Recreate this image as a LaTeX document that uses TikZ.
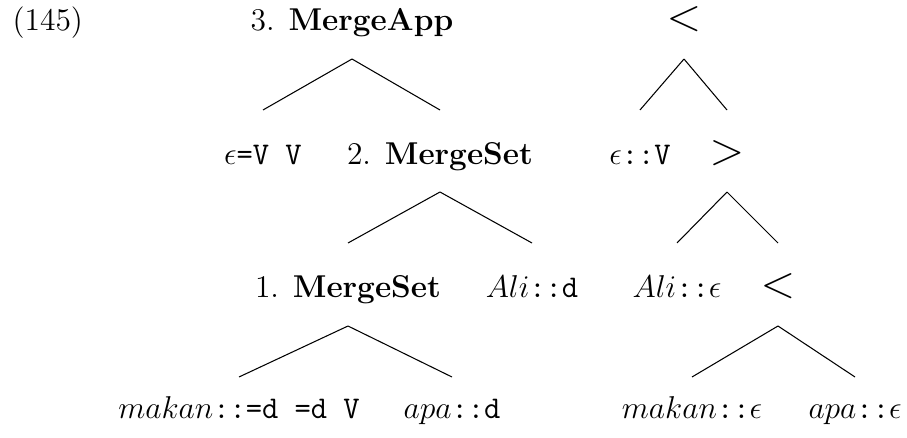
\documentclass[12pt,tikz,border=0pt]{standalone}
\usepackage{amsmath}
\usepackage{amssymb}
\usepackage{tikz}
\usetikzlibrary{positioning,calc}

\begin{document}
\begin{tikzpicture}[
    x=0.38pt, y=-0.38pt,
    lbl/.style={inner sep=0pt, anchor=base},
    rel/.style={inner sep=0pt, anchor=base, font=\Large},
    branch/.style={line width=0.4pt},
]
    \useasboundingbox (0,0) rectangle (907,438);
    \node[lbl, anchor=base west] (exnum) at (12,31) {(145)};
    % derivation
    \node[lbl] (mapp) at (352,31) {3. \textbf{MergeApp}};
    \node[lbl] (epsvv) at (263,165) {$\epsilon$\texttt{=V V}};
    \node[lbl] (msettwo) at (440,165) {2. \textbf{MergeSet}};
    \node[lbl] (msetone) at (348,297) {1. \textbf{MergeSet}};
    \node[lbl] (alid) at (532,297) {$Ali$\texttt{::d}};
    \node[lbl] (makand) at (239,418) {$makan$\texttt{::=d =d V}};
    \node[lbl] (apad) at (452,418) {$apa$\texttt{::d}};
    % derived tree
    \node[rel] (lttop) at (684,31) {$<$};
    \node[lbl] (epsv) at (640,165) {$\epsilon$\texttt{::V}};
    \node[rel] (gtmid) at (727,165) {$>$};
    \node[lbl] (alieps) at (677,297) {$Ali$\texttt{::}$\epsilon$};
    \node[rel] (ltlow) at (778,297) {$<$};
    \node[lbl] (makaneps) at (692,418) {$makan$\texttt{::}$\epsilon$};
    \node[lbl] (apaeps) at (855,418) {$apa$\texttt{::}$\epsilon$};
    \draw[branch] ($(mapp.base)+(0,28)$) -- ($(epsvv.base)+(0,-55)$);
    \draw[branch] ($(mapp.base)+(0,28)$) -- ($(msettwo.base)+(0,-55)$);
    \draw[branch] ($(msettwo.base)+(0,27)$) -- ($(msetone.base)+(0,-54)$);
    \draw[branch] ($(msettwo.base)+(0,27)$) -- ($(alid.base)+(0,-54)$);
    \draw[branch] ($(msetone.base)+(0,29)$) -- ($(makand.base)+(0,-41)$);
    \draw[branch] ($(msetone.base)+(0,29)$) -- ($(apad.base)+(0,-41)$);
    \draw[branch] ($(lttop.base)+(0,28)$) -- ($(epsv.base)+(0,-55)$);
    \draw[branch] ($(lttop.base)+(0,28)$) -- ($(gtmid.base)+(0,-55)$);
    \draw[branch] ($(gtmid.base)+(0,27)$) -- ($(alieps.base)+(0,-54)$);
    \draw[branch] ($(gtmid.base)+(0,27)$) -- ($(ltlow.base)+(0,-54)$);
    \draw[branch] ($(ltlow.base)+(0,29)$) -- ($(makaneps.base)+(0,-41)$);
    \draw[branch] ($(ltlow.base)+(0,29)$) -- ($(apaeps.base)+(0,-41)$);
\end{tikzpicture}
\end{document}
